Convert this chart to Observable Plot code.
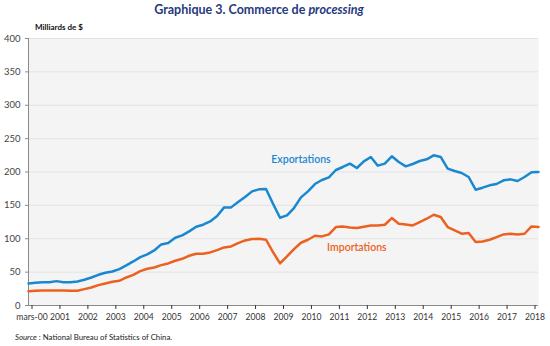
<!DOCTYPE html>
<html><head><meta charset="utf-8">
<script src="https://cdn.jsdelivr.net/npm/d3@7"></script>
<script src="https://cdn.jsdelivr.net/npm/@observablehq/plot@0.6"></script>
<style>
body{margin:0;background:#fff;font-family:Lato,"Open Sans",sans-serif;}
#wrap{position:relative;width:550px;height:346px;overflow:hidden;}
#title{position:absolute;top:2px;left:-16px;width:550px;text-align:center;font-weight:bold;font-size:12.5px;color:#253a7e;}
#unit{position:absolute;top:22px;left:35px;font-weight:bold;font-size:8px;color:#111;}
#chart{position:absolute;top:20px;left:0;}
#source{position:absolute;top:332px;left:15px;font-size:7.8px;color:#222;}
</style></head>
<body><div id="wrap">
<div id="title">Graphique 3. Commerce de <i>processing</i></div>
<div id="unit">Milliards de $</div>
<div id="chart"></div>
<div id="source"><i>Source</i> : National Bureau of Statistics of China.</div>
</div>
<script>
const periods = [
"2000T1","2000T2","2000T3","2000T4","2001T1","2001T2","2001T3","2001T4",
"2002T1","2002T2","2002T3","2002T4","2003T1","2003T2","2003T3","2003T4",
"2004T1","2004T2","2004T3","2004T4","2005T1","2005T2","2005T3","2005T4",
"2006T1","2006T2","2006T3","2006T4","2007T1","2007T2","2007T3","2007T4",
"2008T1","2008T2","2008T3","2008T4","2009T1","2009T2","2009T3","2009T4",
"2010T1","2010T2","2010T3","2010T4","2011T1","2011T2","2011T3","2011T4",
"2012T1","2012T2","2012T3","2012T4","2013T1","2013T2","2013T3","2013T4",
"2014T1","2014T2","2014T3","2014T4","2015T1","2015T2","2015T3","2015T4",
"2016T1","2016T2","2016T3","2016T4","2017T1","2017T2","2017T3","2017T4",
"2018T1","2018T2"];
const exportations = [
33,34,35,35,36.5,35,35,36,38.5,42,46,49,
51,54.5,60,66,72.5,76.5,82.5,91.5,93.5,101.5,105,111,
118,121,126,134,147,147,155,162.5,171,174,174.5,152.5,
131.5,135,146,162,171,182,188,192,203,207.5,212.5,206,
216,222.5,209.5,212.5,223.5,215,208.5,212,216.5,219,225,222.5,
205,201.5,198.5,192.5,173.5,176.5,180,182,187.5,189,186.5,192.5,
199.5,200];
const importations = [
21.5,22,22.5,22.5,22.5,22.5,22,22,24.5,27,30.5,33,
35.5,37,42,46,51.5,55,57,60.5,63,67,70,74.5,
77.5,77.5,79.5,83,87,88.5,93.5,97.5,99.5,100,98.5,80,
63,73.5,84.5,94,98.5,104.5,103.5,106.5,117.5,118.5,117,116,
118,120,120,121,131,122.5,121.5,120,125,130,136,132.5,
117.5,112.5,107.5,108.5,95,96,98.5,102.5,106.5,107.5,106.5,107.5,
118.5,117.5];
const tickPeriods = ["2000T1","2001T1","2002T1","2003T1","2004T1","2005T1","2006T1","2007T1","2008T1","2009T1","2010T1","2011T1","2012T1","2013T1","2014T1","2015T1","2016T1","2017T1","2018T1"];
const tickLabels = ["mars-00","2001","2002","2003","2004","2005","2006","2007","2008","2009","2010","2011","2012","2013","2014","2015","2016","2017","2018"];
const yTicks = [0,50,100,150,200,250,300,350,400];
const seriesNames = ["Exportations","Importations"];
const seriesColors = ["#1a88d0","#ec6120"];
const labelPeriods = ["2009T4","2011T4"];
const labelValues = [218,86.5];

const rows = s => periods.map((p,i)=>({period:p, value:s[i]}));
const expRows = rows(exportations), impRows = rows(importations);
const labels = seriesNames.map((n,i)=>({name:n, period:labelPeriods[i], value:labelValues[i], color:seriesColors[i]}));
const tickMap = new Map(tickPeriods.map((p,i)=>[p,tickLabels[i]]));

const chart = Plot.plot({
  width: 550, height: 306,
  marginLeft: 28, marginRight: 12, marginTop: 18, marginBottom: 21,
  style: {fontFamily: "Lato, 'Open Sans', sans-serif", background: "transparent"},
  x: {type: "point", domain: periods, padding: 0},
  y: {domain: [0,400]},
  marks: [
    Plot.frame({fill: "#f4f4f4", stroke: null}),
    Plot.ruleY(yTicks.slice(1), {stroke: "#e3e3e3", strokeWidth: 1}),
    Plot.ruleX([periods[0]], {stroke: "#8a8a8a", strokeWidth: 1}),
    Plot.ruleY([0], {stroke: "#8a8a8a", strokeWidth: 1}),
    Plot.axisY({ticks: yTicks, tickSize: 3, tickPadding: 5, fontSize: 9.5, label: null, color: "#444", stroke: "#8a8a8a"}),
    Plot.axisX({ticks: tickPeriods, tickFormat: d => tickMap.get(d), tickSize: 4, tickPadding: 4, fontSize: 8.6, label: null, color: "#333", dx: 3.5}),
    Plot.line(impRows, {x: "period", y: "value", stroke: seriesColors[1], strokeWidth: 2.5, strokeLinejoin: "round"}),
    Plot.line(expRows, {x: "period", y: "value", stroke: seriesColors[0], strokeWidth: 2.5, strokeLinejoin: "round"}),
    Plot.text(labels, {x: "period", y: "value", text: "name", fill: "color", fontSize: 10.5, fontWeight: 600})
  ]
});
document.getElementById("chart").appendChild(chart);
</script>
</body></html>
